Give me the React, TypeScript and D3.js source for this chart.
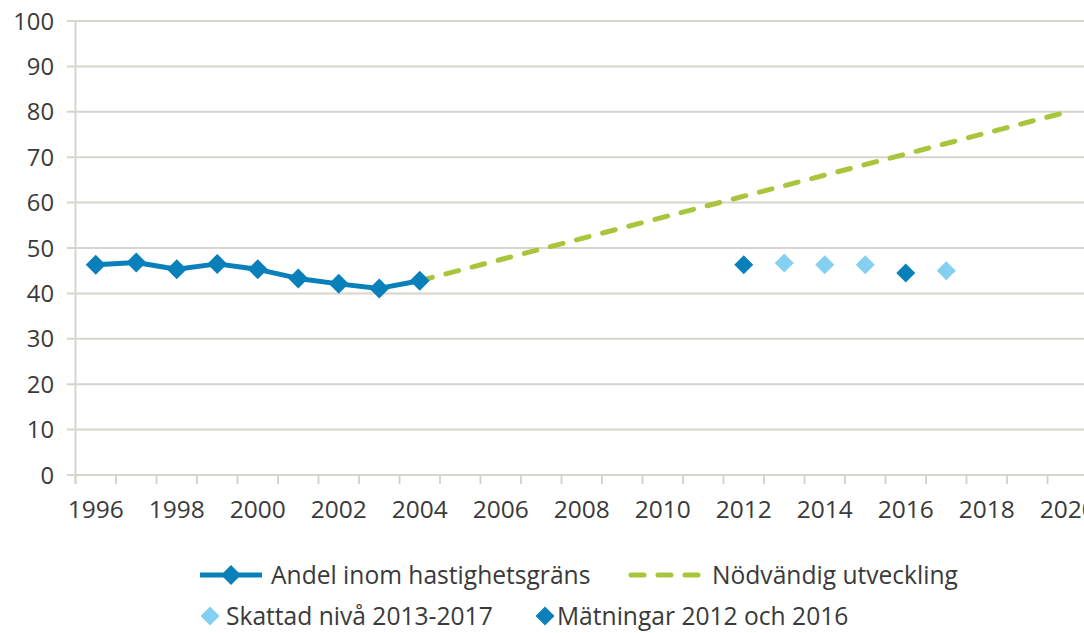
import React from "react";
import * as d3 from "d3";

const years = ["1996","1997","1998","1999","2000","2001","2002","2003","2004","2005","2006","2007","2008","2009","2010","2011","2012","2013","2014","2015","2016","2017","2018","2019","2020"];
const yTicks = [0,10,20,30,40,50,60,70,80,90,100];
const andelYears = ["1996","1997","1998","1999","2000","2001","2002","2003","2004"];
const andelValues = [46.3, 46.8, 45.3, 46.5, 45.3, 43.3, 42.1, 41.1, 42.8];
const nodYears = ["2004","2020"];
const nodValues = [42.8, 80];
const skattadYears = ["2013","2014","2015","2017"];
const skattadValues = [46.7, 46.3, 46.3, 45.0];
const matYears = ["2012","2016"];
const matValues = [46.3, 44.5];
const legendLabels = ["Andel inom hastighetsgräns","Nödvändig utveckling","Skattad nivå 2013-2017","Mätningar 2012 och 2016"];

const BLUE = "#0a80bb";
const LIGHT = "#84d0f1";
const GREEN = "#a9c53c";
const GRID = "#d8d4ce";
const TEXT = "#3a3a3a";
const FONT = "'Open Sans', sans-serif";

function diamond(cx: number, cy: number, r: number) {
  return `M${cx},${cy - r}L${cx + r},${cy}L${cx},${cy + r}L${cx - r},${cy}Z`;
}

export default function App() {
  const W = 1084, H = 633;
  const x = d3.scaleBand<string>().domain(years).range([75.5, 1088]).padding(0);
  const cx = (yr: string) => (x(yr) as number) + x.bandwidth() / 2;
  const y = d3.scaleLinear().domain([0, 100]).range([475, 21]);

  const line = d3.line<[string, number]>().x(d => cx(d[0])).y(d => y(d[1]));
  const andelPts: [string, number][] = andelYears.map((yr, i) => [yr, andelValues[i]]);
  const nodPts: [string, number][] = nodYears.map((yr, i) => [yr, nodValues[i]]);

  return (
    <svg width={W} height={H} style={{ position: "absolute", left: 0, top: 0, background: "#fff" }} fontFamily={FONT}>
      {yTicks.map(t => (
        <g key={t}>
          <line x1={67} x2={1090} y1={y(t)} y2={y(t)} stroke={GRID} strokeWidth={2} />
          <text x={54} y={y(t)} dy="0.36em" textAnchor="end" fontSize={23.8} fill={TEXT}>{t}</text>
        </g>
      ))}
      <line x1={75.5} x2={75.5} y1={y(100)} y2={484} stroke={GRID} strokeWidth={2} />
      {years.map(yr => (
        <line key={yr} x1={x(yr) as number} x2={x(yr) as number} y1={475} y2={484} stroke={GRID} strokeWidth={2} />
      ))}
      {years.filter((_, i) => i % 2 === 0).map(yr => (
        <text key={yr} x={cx(yr)} y={518} textAnchor="middle" fontSize={24.5} fill={TEXT}>{yr}</text>
      ))}
      <path d={line(nodPts) as string} fill="none" stroke={GREEN} strokeWidth={5} strokeDasharray="13 14" strokeLinecap="round" />
      <path d={line(andelPts) as string} fill="none" stroke={BLUE} strokeWidth={5} strokeLinejoin="round" />
      {andelPts.map(([yr, v]) => (
        <path key={yr} d={diamond(cx(yr), y(v), 10)} fill={BLUE} />
      ))}
      {skattadYears.map((yr, i) => (
        <path key={yr} d={diamond(cx(yr), y(skattadValues[i]), 9.5)} fill={LIGHT} />
      ))}
      {matYears.map((yr, i) => (
        <path key={yr} d={diamond(cx(yr), y(matValues[i]), 9.5)} fill={BLUE} />
      ))}
      {/* legend */}
      <line x1={200} x2={262} y1={575} y2={575} stroke={BLUE} strokeWidth={5} />
      <path d={diamond(231, 575, 10)} fill={BLUE} />
      <text x={271} y={575} dy="0.36em" fontSize={24.6} fill={TEXT}>{legendLabels[0]}</text>
      <line x1={631} x2={702} y1={575} y2={575} stroke={GREEN} strokeWidth={5} strokeDasharray="13 14" strokeLinecap="round" />
      <text x={712} y={575} dy="0.36em" fontSize={24.6} fill={TEXT}>{legendLabels[1]}</text>
      <path d={diamond(210, 616, 9.5)} fill={LIGHT} />
      <text x={226} y={616} dy="0.36em" fontSize={24.6} fill={TEXT}>{legendLabels[2]}</text>
      <path d={diamond(545, 616, 9.5)} fill={BLUE} />
      <text x={557} y={616} dy="0.36em" fontSize={24.6} fill={TEXT}>{legendLabels[3]}</text>
    </svg>
  );
}
